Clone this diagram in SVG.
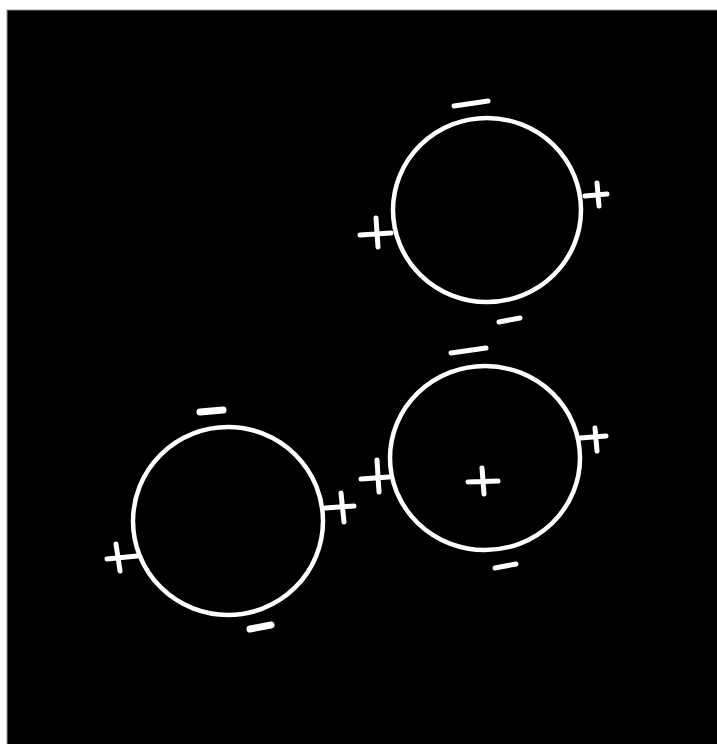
<svg xmlns="http://www.w3.org/2000/svg" width="717" height="744" viewBox="0 0 717 744">
<style>
.ring{fill:none;stroke:#fff;stroke-width:4.5}
.sign{fill:none;stroke:#fff;stroke-width:5;stroke-linecap:round}
.thick{stroke-width:7}
</style>
<rect x="0" y="0" width="717" height="744" fill="#fff"/>
<rect x="7" y="10" width="712" height="736" fill="#000" stroke="#999" stroke-width="1"/>
<g id="circle-top">
<ellipse class="ring" cx="487" cy="210" rx="94" ry="92"/>
<path class="sign" d="M454,106 L488,101"/>
<path class="sign" d="M499,322 L520,318"/>
<path class="sign" d="M360,235 L391,233 M376,218 L378,247"/>
<path class="sign" d="M585,196 L607,194 M597,183 L599,206"/>
</g>
<g id="circle-middle">
<ellipse class="ring" cx="485" cy="458" rx="95" ry="92"/>
<path class="sign" d="M451,353 L486,348"/>
<path class="sign" d="M495,568 L516,564"/>
<path class="sign" d="M361,479 L389,477 M377,460 L379,492"/>
<path class="sign" d="M580,438 L606,436 M595,428 L597,451"/>
<path class="sign" d="M468,482 L498,481 M482,468 L484,494"/>
</g>
<g id="circle-bottom">
<ellipse class="ring" cx="228" cy="521" rx="95" ry="94"/>
<path class="sign thick" d="M200,412 L223,410"/>
<path class="sign thick" d="M250,629 L271,625"/>
<path class="sign" d="M107,559 L137,556 M116,544 L120,571"/>
<path class="sign" d="M325,508 L354,506 M341,493 L344,522"/>
</g>
</svg>
